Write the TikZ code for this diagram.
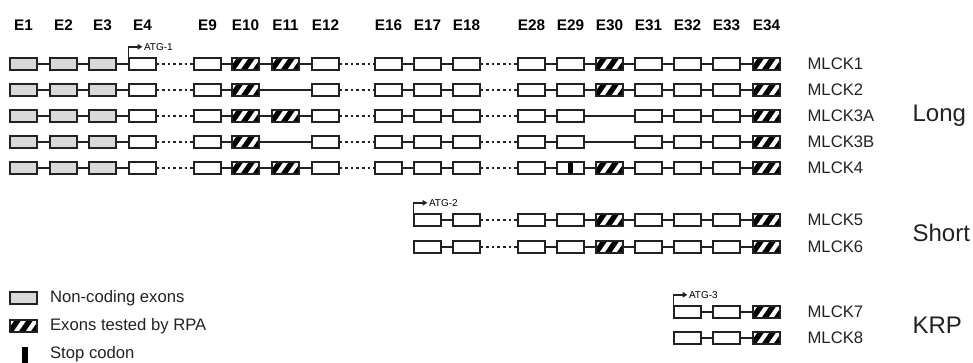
\documentclass[tikz,border=0pt]{standalone}
\usepackage{fontspec}
\setmainfont{Liberation Sans}
\usetikzlibrary{arrows.meta}
\definecolor{exline}{HTML}{222222}
\definecolor{ncgray}{HTML}{D9D9D9}

\begin{document}
\begin{tikzpicture}[x=0.75pt, y=-0.75pt,
  exon/.style={draw=exline, line width=1.35pt, fill=white, minimum width=19.8pt, minimum height=9.4pt, inner sep=0pt},
  exwh/.style={exon},
  exnc/.style={exon, fill=ncgray},
  exrp/.style={exon, path picture={
      \foreach \bb in {-4,8,20}
        \fill[black] (path picture bounding box.south west) ++(\bb,0) -- ++(6.5,0) -- ++(9,-13) -- ++(-6.5,0) -- cycle;}},
  exst/.style={exon, path picture={
      \fill[black] ([xshift=-1.6pt]path picture bounding box.south) rectangle ([xshift=1.6pt]path picture bounding box.north);}},
  intron/.style={draw=exline, line width=1.8pt},
  dotgap/.style={draw=exline, line width=2.2pt, dash pattern=on 2pt off 2.2pt},
  hdr/.style={font=\fontsize{11.5}{13}\selectfont\bfseries},
  lbl/.style={font=\fontsize{12.5}{14}\selectfont, text=exline, inner sep=1pt},
  grp/.style={font=\fontsize{18}{20}\selectfont, text=exline, inner sep=1pt},
  atg/.style={font=\fontsize{7.5}{9}\selectfont, inner sep=1pt},
  atgarrow/.style={draw=exline, line width=1.2pt, -{Triangle[length=3.5pt,width=4pt]}}]
  \useasboundingbox (0,0) rectangle (973,363);

  % 1. exon headers
  \foreach \en/\xx in {1/23.5, 2/63.5, 3/102.5, 4/142.5, 9/207.5, 10/245.5, 11/285.5, 12/325.5,
                       16/388.5, 17/427.5, 18/466.5, 28/531.5, 29/570.5, 30/609.5, 31/648.5,
                       32/687.5, 33/726.5, 34/766.5}
    \node[hdr] (hE\en) at (\xx,25) {E\en};

  % 2. transcripts (exon/type), connectors drawn as we go
  \foreach \r/\yy/\lbl/\lst in {
    1/64/1/{1/exnc,2/exnc,3/exnc,4/exwh,9/exwh,10/exrp,11/exrp,12/exwh,16/exwh,17/exwh,18/exwh,28/exwh,29/exwh,30/exrp,31/exwh,32/exwh,33/exwh,34/exrp},
    2/90/2/{1/exnc,2/exnc,3/exnc,4/exwh,9/exwh,10/exrp,12/exwh,16/exwh,17/exwh,18/exwh,28/exwh,29/exwh,30/exrp,31/exwh,32/exwh,33/exwh,34/exrp},
    3/116/3A/{1/exnc,2/exnc,3/exnc,4/exwh,9/exwh,10/exrp,11/exrp,12/exwh,16/exwh,17/exwh,18/exwh,28/exwh,29/exwh,31/exwh,32/exwh,33/exwh,34/exrp},
    4/142/3B/{1/exnc,2/exnc,3/exnc,4/exwh,9/exwh,10/exrp,12/exwh,16/exwh,17/exwh,18/exwh,28/exwh,29/exwh,31/exwh,32/exwh,33/exwh,34/exrp},
    5/168/4/{1/exnc,2/exnc,3/exnc,4/exwh,9/exwh,10/exrp,11/exrp,12/exwh,16/exwh,17/exwh,18/exwh,28/exwh,29/exst,30/exrp,31/exwh,32/exwh,33/exwh,34/exrp},
    6/220/5/{17/exwh,18/exwh,28/exwh,29/exwh,30/exrp,31/exwh,32/exwh,33/exwh,34/exrp},
    7/247/6/{17/exwh,18/exwh,28/exwh,29/exwh,30/exrp,31/exwh,32/exwh,33/exwh,34/exrp},
    8/312/7/{32/exwh,33/exwh,34/exrp},
    9/338/8/{32/exwh,33/exwh,34/exrp}}{
    \coordinate (rowy\r) at (0,\yy);
    \xdef\lastex{0}
    \foreach \en/\ty in \lst {
      \node[\ty] (r\r e\en) at (hE\en |- rowy\r) {};
      \ifnum\lastex>0
        \ifnum\lastex=4 \def\cstyle{dotgap}\else\ifnum\lastex=12 \def\cstyle{dotgap}\else\ifnum\lastex=18 \def\cstyle{dotgap}\else\def\cstyle{intron}\fi\fi\fi
        \draw[\cstyle] (r\r e\lastex.east) -- (r\r e\en.west);
      \fi
      \xdef\lastex{\en}
    }
    \node[lbl, anchor=west] (lab\r) at (806,\yy) {MLCK\lbl};
  }

  % 3. start codons
  \node[atg, anchor=west] (atg1) at ([shift={(14,-10)}]r1e4.north west) {ATG-1};
  \draw[atgarrow] (r1e4.north west) |- (atg1.west);
  \node[atg, anchor=west] (atg2) at ([shift={(14,-10)}]r6e17.north west) {ATG-2};
  \draw[atgarrow] (r6e17.north west) |- (atg2.west);
  \node[atg, anchor=west] (atg3) at ([shift={(14,-10)}]r8e32.north west) {ATG-3};
  \draw[atgarrow] (r8e32.north west) |- (atg3.west);

  % 4. groups
  \node[grp, anchor=west] (gLong) at (911,116) {Long};
  \node[grp, anchor=west] (gShort) at (911,233) {Short};
  \node[grp, anchor=west] (gKRP) at (911,325) {KRP};

  % 5. legend
  \node[exnc] (lgnc) at (23.5,298) {};
  \node[lbl, anchor=west] (lgncT) at (48.5,298) {Non-coding exons};
  \node[exrp] (lgrp) at (23.5,326) {};
  \node[lbl, anchor=west] (lgrpT) at (48.5,326) {Exons tested by RPA};
  \node[fill=black, minimum width=4.5pt, minimum height=12pt, inner sep=0pt] (lgst) at (24.5,355) {};
  \node[lbl, anchor=west] (lgstT) at (48.5,354) {Stop codon};
\end{tikzpicture}
\end{document}
